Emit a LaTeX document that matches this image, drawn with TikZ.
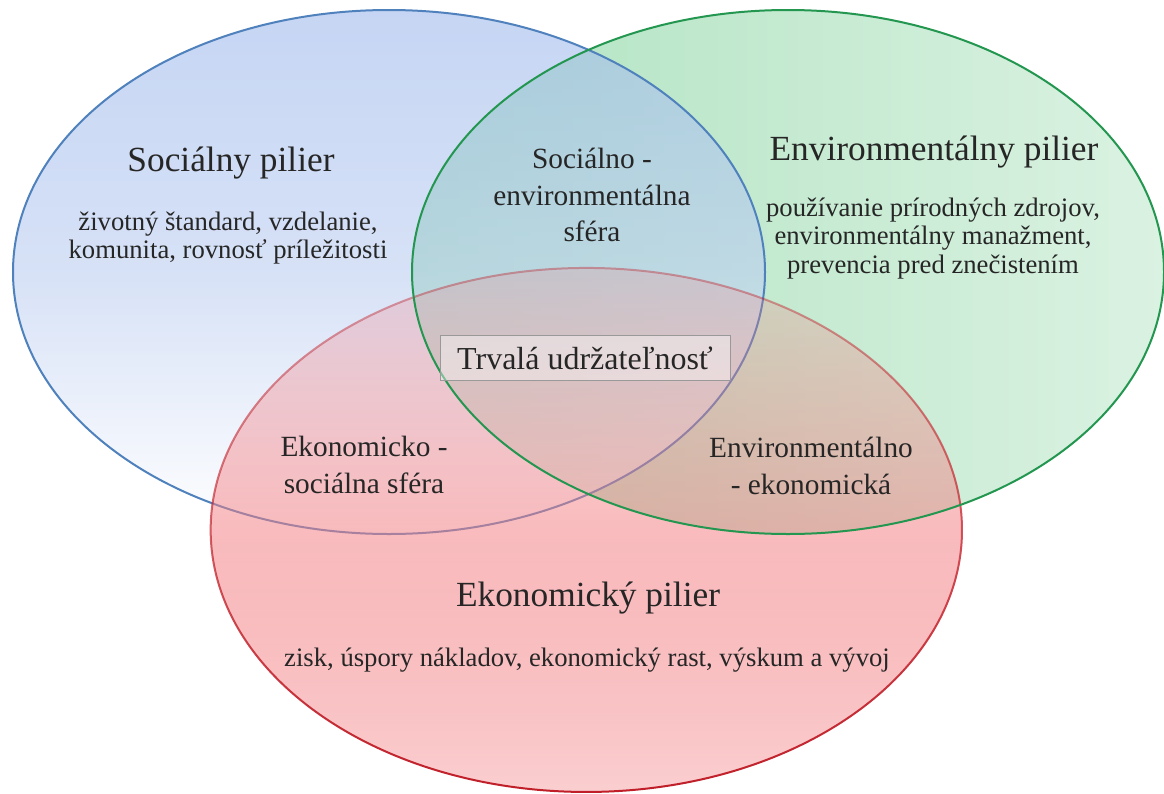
\documentclass[tikz,border=0pt]{standalone}
\usepackage{fontspec}
\setmainfont{Liberation Serif}
\usetikzlibrary{shapes.geometric, fadings}
\definecolor{socLine}{RGB}{79,129,189}
\definecolor{socFill}{RGB}{160,186,236}
\definecolor{envLine}{RGB}{35,150,80}
\definecolor{envFill}{RGB}{122,208,150}
\definecolor{ekoLine}{RGB}{192,30,40}
\definecolor{ekoFill}{RGB}{244,128,132}
\tikzfading[name=ekofade, top color=transparent!75, bottom color=transparent!0]
\tikzfading[name=rimfade, top color=transparent!60, bottom color=transparent!0]

\begin{document}
\begin{tikzpicture}[
    x=0.75pt, y=-0.75pt,
    pillar/.style={ellipse, line width=1.5pt, minimum width=564pt, minimum height=393pt, inner sep=0pt, fill opacity=0.6},
    rim/.style={ellipse, draw=#1, line width=1.5pt, minimum width=564pt, minimum height=393pt, inner sep=0pt},
    title/.style={text=black!85, font=\fontsize{26.5}{30}\selectfont},
    desc/.style={text=black!85, align=center, font=\fontsize{20}{21.3}\selectfont},
    sphere/.style={text=black!85, align=center, font=\fontsize{22}{27.5}\selectfont},
    core/.style={draw=black!40, line width=0.6pt, fill=white, fill opacity=0.4, text opacity=1, text=black!85, minimum width=217.5pt, minimum height=33.75pt, font=\fontsize{24}{28}\selectfont}
]
\useasboundingbox (0,0) rectangle (1164,793);
\fill[white] (0,0) rectangle (1164,793);

% the three pillars
\node[pillar, left color=envFill, right color=envFill!45] (env) at (788,272) {};
\node[pillar, draw=socLine, top color=socFill, bottom color=white, middle color=socFill!70] (soc) at (389,272) {};
\node[pillar, fill opacity=0.85, top color=ekoFill, bottom color=ekoFill!45, middle color=ekoFill, path fading=ekofade] (eko) at (587,530) {};
\node[rim=ekoLine, path fading=rimfade] (ekoRim) at (eko.center) {};
\node[rim=envLine] (envRim) at (env.center) {};

% pillar texts
\node[title] (socT) at (231,163) {Sociálny pilier};
\node[desc] (socD) at (228,238) {životný štandard, vzdelanie,\\komunita, rovnosť príležitosti};
\node[title] (envT) at (934,152) {Environmentálny pilier};
\node[desc] (envD) at (933,238.5) {používanie prírodných zdrojov,\\environmentálny manažment,\\prevencia pred znečistením};
\node[title] (ekoT) at (588,598) {Ekonomický pilier};
\node[desc] (ekoD) at (587,660) {zisk, úspory nákladov, ekonomický rast, výskum a vývoj};

% overlaps
\node[sphere] (socEnv) at (592,195) {Sociálno -\\environmentálna\\sféra};
\node[sphere] (ekoSoc) at (364,465) {Ekonomicko -\\sociálna sféra};
\node[sphere] (envEko) at (811,466) {Environmentálno\\- ekonomická};
\node[core] (trv) at (585,358) {Trvalá udržateľnosť};
\end{tikzpicture}
\end{document}
